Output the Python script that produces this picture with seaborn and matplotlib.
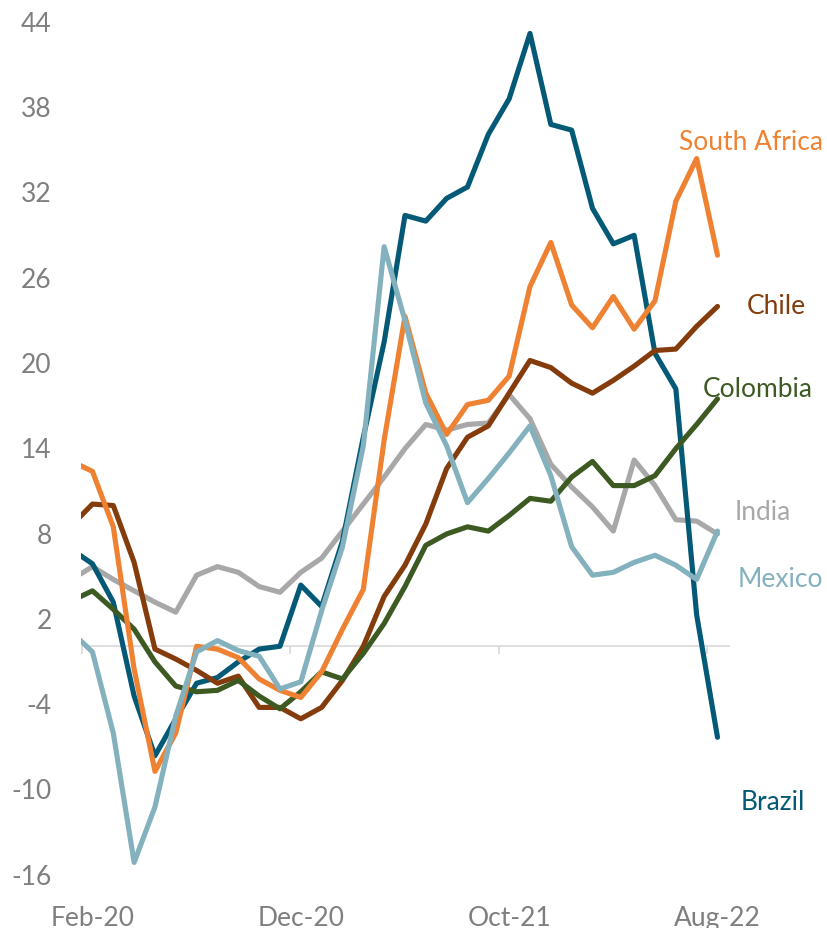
import matplotlib
matplotlib.use("Agg")
import matplotlib.pyplot as plt
import seaborn as sns
import pandas as pd
import numpy as np

# monthly values, Jan-20 .. Aug-22 (Jan-20 only feeds the clipped first segment)
months = pd.date_range("2020-01-01", "2022-08-01", freq="MS")
month_idx = np.arange(-1, len(months) - 1)  # Feb-20 = 0

brazil = [6.8, 5.8, 3.1, -3.5, -7.7, -5.1, -2.6, -2.2, -1.1, -0.2, 0.0, 4.3, 2.8, 7.4, 14.7, 21.4,
          30.3, 29.9, 31.5, 32.3, 36.0, 38.5, 43.1, 36.7, 36.3, 30.8, 28.3, 28.9, 20.6, 18.1, 2.2, -6.4]
south_africa = [13.0, 12.3, 8.4, -1.6, -8.8, -6.1, 0.0, -0.2, -0.8, -2.3, -3.1, -3.6, -1.8, 1.2, 4.0, 14.5,
                23.2, 17.8, 14.9, 17.0, 17.3, 19.0, 25.3, 28.4, 24.0, 22.4, 24.6, 22.3, 24.3, 31.3, 34.3, 27.5]
chile = [8.5, 10.0, 9.9, 5.9, -0.2, -0.9, -1.7, -2.6, -2.1, -4.3, -4.3, -5.1, -4.3, -2.4, 0.0, 3.5,
         5.7, 8.6, 12.5, 14.7, 15.5, 17.8, 20.1, 19.6, 18.5, 17.8, 18.7, 19.7, 20.8, 20.9, 22.5, 23.9]
colombia = [3.2, 3.9, 2.6, 1.2, -1.1, -2.8, -3.2, -3.1, -2.4, -3.5, -4.4, -3.2, -1.8, -2.3, -0.5, 1.6,
            4.2, 7.1, 7.9, 8.4, 8.1, 9.2, 10.4, 10.2, 11.9, 13.0, 11.3, 11.3, 12.0, 13.9, 15.6, 17.4]
india = [4.7, 5.6, 4.7, 3.9, 3.1, 2.4, 5.0, 5.6, 5.2, 4.2, 3.8, 5.2, 6.2, 8.1, 10.0, 11.9,
         13.9, 15.6, 15.2, 15.6, 15.7, 17.7, 16.0, 12.8, 11.2, 9.8, 8.1, 13.1, 11.3, 8.9, 8.8, 7.9]
mexico = [1.0, -0.4, -6.1, -15.2, -11.3, -4.9, -0.4, 0.4, -0.3, -0.7, -3.0, -2.5, 2.5, 7.0, 14.1, 28.1,
          22.9, 17.1, 14.1, 10.1, 11.8, 13.6, 15.5, 12.0, 7.0, 5.0, 5.2, 5.9, 6.4, 5.7, 4.7, 8.1]

# drawing order (bottom -> top)
order = ["India", "Brazil", "Chile", "Colombia", "South Africa", "Mexico"]
series = {"Brazil": brazil, "South Africa": south_africa, "Chile": chile,
          "Colombia": colombia, "India": india, "Mexico": mexico}
colors = {"Brazil": "#045A76", "South Africa": "#EE8232", "Chile": "#843C0C",
          "Colombia": "#3D5A23", "India": "#A8A8A8", "Mexico": "#84B1BE"}
# name labels at the right (x in months from Feb-20, y in value units)
label_pos = {"South Africa": (28.15, 35.5), "Chile": (31.4, 24.0), "Colombia": (29.3, 18.1),
             "India": (30.8, 9.45), "Mexico": (30.95, 4.8), "Brazil": (31.1, -10.9)}

xtick_pos = [0, 10, 20, 30]
xtick_labels = ["Feb-20", "Dec-20", "Oct-21", "Aug-22"]
ytick_pos = np.arange(-16, 45, 6)

rows = []
for name in order:
    for i, v in zip(month_idx, series[name]):
        rows.append({"month": i, "value": v, "country": name})
df = pd.DataFrame(rows)

sns.set_style("white")
plt.rcParams["font.family"] = ["Lato", "DejaVu Sans"]

fig = plt.figure(figsize=(8.27, 9.29), dpi=100)
ax = fig.add_axes([81 / 827, 40 / 929, 649 / 827, 881.6 / 929])

sns.lineplot(data=df, x="month", y="value", hue="country", hue_order=order,
             palette=colors, sort=False, linewidth=3.7, legend=False, ax=ax,
             solid_joinstyle="round", solid_capstyle="round")

ax.set_xlim(-0.55, 30.6)
ax.set_ylim(-17, 45)

# zero line with category-boundary ticks (Excel style)
ax.axhline(0, color="#D9D9D9", lw=1.2, zorder=0.5)
ax.vlines(np.arange(-0.5, 31, 10), -0.56, 0, color="#D9D9D9", lw=1.2, zorder=0.5)

for s in ax.spines.values():
    s.set_visible(False)

grey = "#7F7F7F"
ax.set_xticks(xtick_pos)
ax.set_xticklabels(xtick_labels)
ax.set_yticks(ytick_pos)
ax.set_yticklabels([str(v) for v in ytick_pos])
ax.tick_params(axis="x", length=0, pad=12, labelsize=19, labelcolor=grey)
ax.tick_params(axis="y", length=0, pad=21, labelsize=19, labelcolor=grey)
ax.set_xlabel("")
ax.set_ylabel("")
ax.grid(False)

for name, (lx, ly) in label_pos.items():
    ax.text(lx, ly, name, color=colors[name], fontsize=19, ha="left", va="center",
            clip_on=False)

fig.savefig("out.png", dpi=100)
